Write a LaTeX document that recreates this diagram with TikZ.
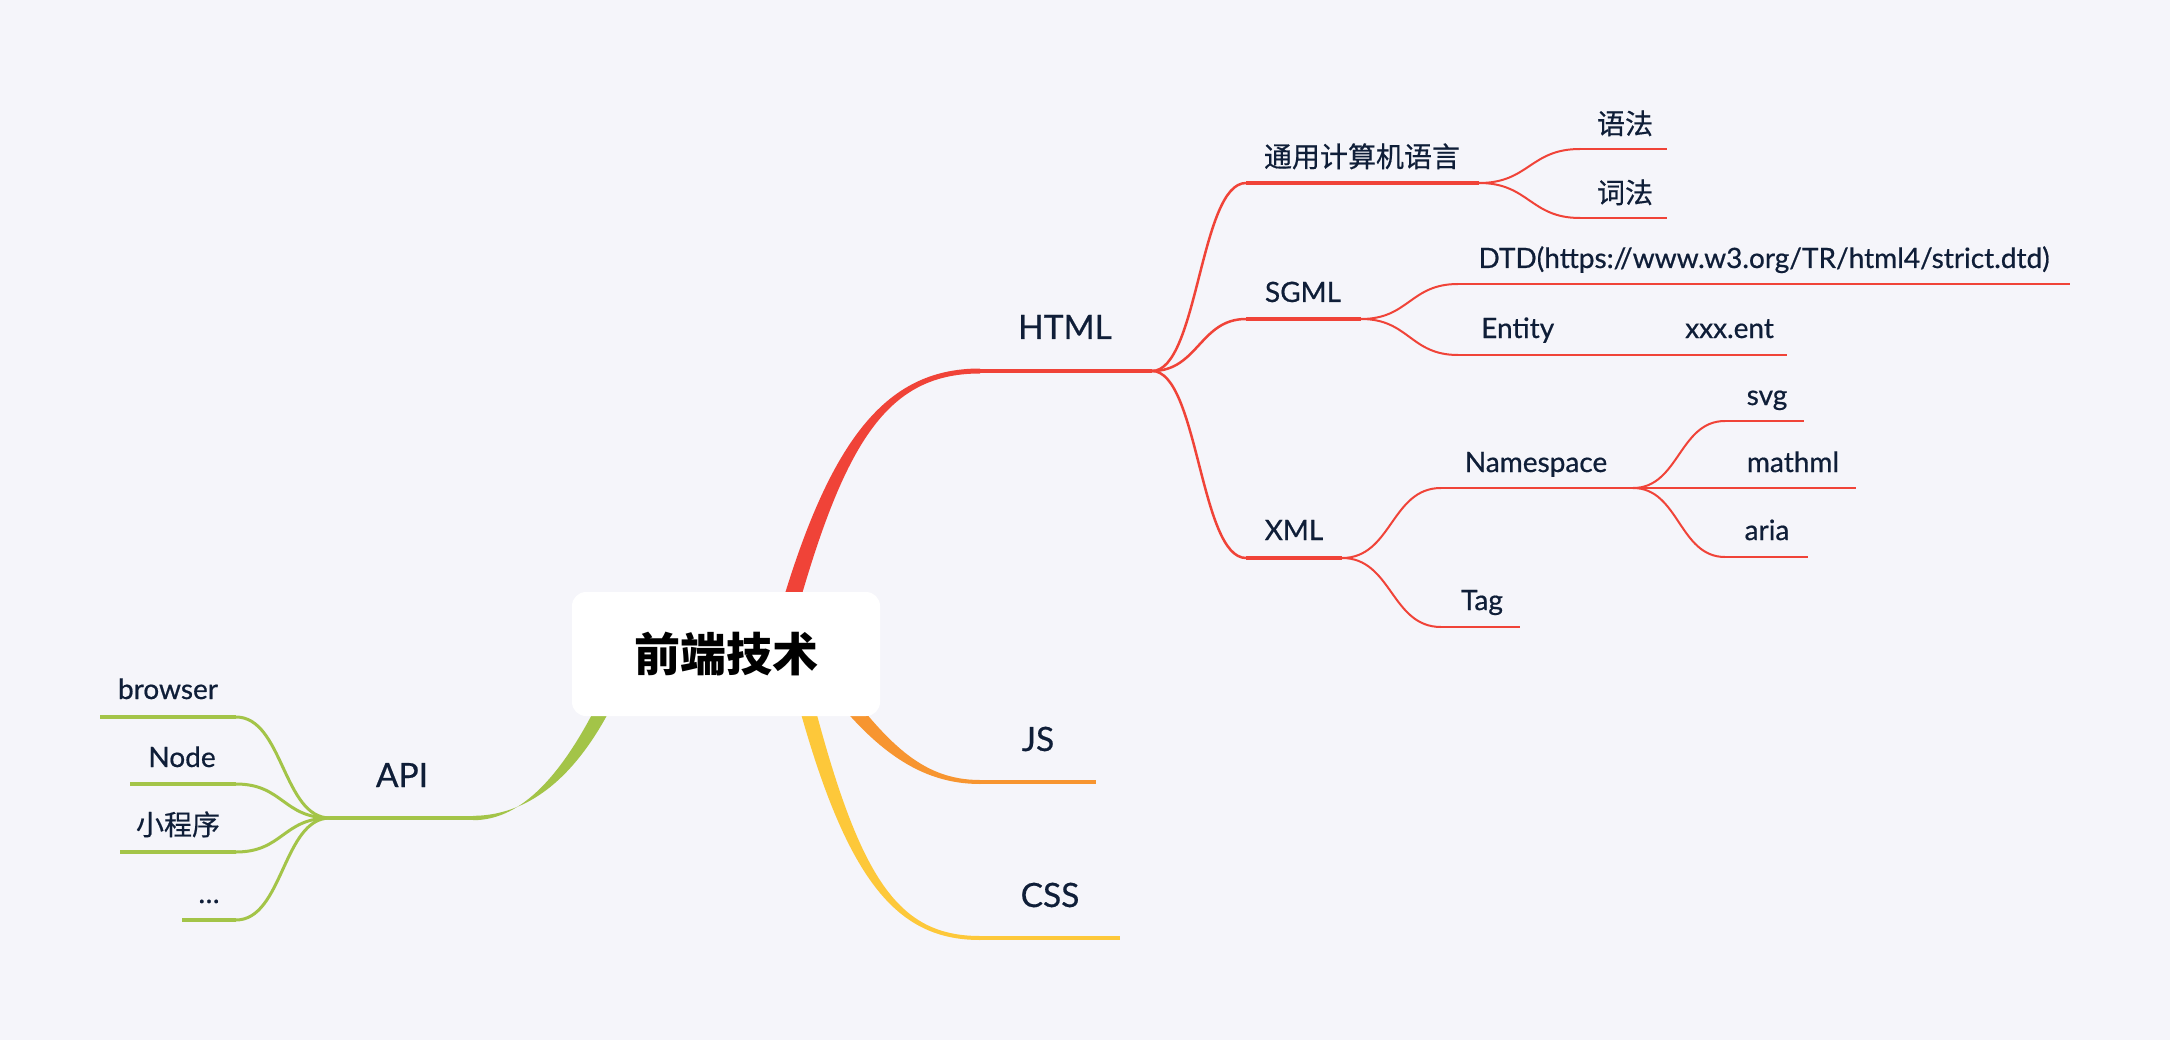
\documentclass[tikz,border=0pt]{standalone}
\usepackage{fontspec}
\setmainfont{Lato}
\newfontfamily\latomed{Lato}[FakeBold=0.6]
\newfontfamily\cjk{Noto Sans CJK SC}
\newfontfamily\cjkmed{Noto Sans CJK SC}[FakeBold=0.5]
\definecolor{bgc}{RGB}{245,245,250}
\definecolor{mmred}{RGB}{240,67,56}
\definecolor{mmorange}{RGB}{247,149,48}
\definecolor{mmyellow}{RGB}{253,200,58}
\definecolor{mmgreen}{RGB}{163,196,72}
\definecolor{txt}{RGB}{15,30,56}
\begin{document}
\begin{tikzpicture}[x=1pt,y=-1pt,
  lbl/.style={anchor=base, inner sep=0pt, text=txt, font=\latomed\fontsize{28}{30}\selectfont},
  lblone/.style={anchor=base, inner sep=0pt, text=txt, font=\latomed\fontsize{33.5}{36}\selectfont},
  cjklbl/.style={anchor=base, inner sep=0pt, text=txt, font=\cjkmed\fontsize{28}{30}\selectfont},
  uline/.style={draw=#1, line width=4pt, line cap=butt},
  thinline/.style={draw=#1, line width=2pt, line cap=butt},
  curvetwo/.style={draw=#1, line width=2.5pt},
  curvethree/.style={draw=#1, line width=2pt},
]
\fill[bgc] (0,0) rectangle (2170,1040);

% named points
\coordinate (h0) at (980,371); \coordinate (h1) at (1152,371);
\coordinate (j0) at (980,782); \coordinate (j1) at (1096,782);
\coordinate (c0) at (980,938); \coordinate (c1) at (1120,938);
\coordinate (a0) at (473,818); \coordinate (a1) at (330,818);
\coordinate (t0) at (1246,183); \coordinate (t1) at (1479,183);
\coordinate (s0) at (1246,319); \coordinate (s1) at (1361,319);
\coordinate (x0) at (1246,558); \coordinate (x1) at (1342,558);
\coordinate (yf0) at (1580,149); \coordinate (yf1) at (1667,149);
\coordinate (cf0) at (1580,218); \coordinate (cf1) at (1667,218);
\coordinate (dtd0) at (1458,284); \coordinate (dtd1) at (2070,284);
\coordinate (en0) at (1458,355); \coordinate (en1) at (1787,355);
\coordinate (ns0) at (1441,488); \coordinate (ns1) at (1633,488);
\coordinate (tg0) at (1441,627); \coordinate (tg1) at (1520,627);
\coordinate (sv0) at (1725,421); \coordinate (sv1) at (1804,421);
\coordinate (mm0) at (1725,488); \coordinate (mm1) at (1856,488);
\coordinate (ar0) at (1725,557); \coordinate (ar1) at (1808,557);
\coordinate (br0) at (236,717); \coordinate (br1) at (100,717);
\coordinate (nd0) at (236,784); \coordinate (nd1) at (130,784);
\coordinate (xc0) at (236,852); \coordinate (xc1) at (120,852);
\coordinate (dd0) at (236,920); \coordinate (dd1) at (182,920);

% tapered main branches
\fill[mmred] (766.8,657.8) .. controls (821.8,447.8) and (880,368.5) .. (980,368.5)
  -- (980,373.5) .. controls (880,373.5) and (838.2,452.2) .. (783.2,662.2) -- cycle;
\fill[mmgreen] (618.3,693) .. controls (571.3,793) and (515,815.8) .. (473,815.8)
  -- (473,820.2) .. controls (515,820.2) and (558.7,787) .. (605.7,687) -- cycle;
\fill[mmorange] (835.9,675.4) .. controls (885.9,740.4) and (920,780) .. (980,780)
  -- (980,784) .. controls (920,784) and (874.1,749.6) .. (824.1,684.6) -- cycle;
\fill[mmyellow] (797.6,638.2) .. controls (852.6,868.2) and (890,936) .. (980,936)
  -- (980,940) .. controls (890,940) and (837.4,871.8) .. (782.4,641.8) -- cycle;

% level-1 underlines
\draw[uline=mmred, line width=4.5pt] (h0) -- (h1);
\draw[uline=mmorange] (j0) -- (j1);
\draw[uline=mmyellow] (c0) -- (c1);
\draw[uline=mmgreen] (a0) -- (a1);

% HTML children
\draw[curvetwo=mmred] (h1) .. controls +(46,0) and +(-46,0) .. (t0);
\draw[curvetwo=mmred] (h1) .. controls +(46,0) and +(-46,0) .. (s0);
\draw[curvetwo=mmred] (h1) .. controls +(46,0) and +(-46,0) .. (x0);
\draw[uline=mmred] (t0) -- (t1);
\draw[uline=mmred] (s0) -- (s1);
\draw[uline=mmred] (x0) -- (x1);

\draw[curvethree=mmred] (t1) .. controls +(50,0) and +(-50,0) .. (yf0);
\draw[curvethree=mmred] (t1) .. controls +(50,0) and +(-50,0) .. (cf0);
\draw[thinline=mmred] (yf0) -- (yf1);
\draw[thinline=mmred] (cf0) -- (cf1);

\draw[curvethree=mmred] (s1) .. controls +(48,0) and +(-48,0) .. (dtd0);
\draw[curvethree=mmred] (s1) .. controls +(48,0) and +(-48,0) .. (en0);
\draw[thinline=mmred] (dtd0) -- (dtd1);
\draw[thinline=mmred] (en0) -- (en1);

\draw[curvethree=mmred] (x1) .. controls +(50,0) and +(-50,0) .. (ns0);
\draw[curvethree=mmred] (x1) .. controls +(50,0) and +(-50,0) .. (tg0);
\draw[thinline=mmred, line width=2.5pt] (ns0) -- (ns1);
\draw[thinline=mmred] (tg0) -- (tg1);

\draw[curvethree=mmred] (ns1) .. controls +(46,0) and +(-46,0) .. (sv0);
\draw[curvethree=mmred] (ns1) -- (mm0);
\draw[curvethree=mmred] (ns1) .. controls +(46,0) and +(-46,0) .. (ar0);
\draw[thinline=mmred] (sv0) -- (sv1);
\draw[thinline=mmred] (mm0) -- (mm1);
\draw[thinline=mmred] (ar0) -- (ar1);

% API children
\draw[curvetwo=mmgreen, line width=3pt] (a1) .. controls +(-47,0) and +(47,0) .. (br0);
\draw[curvetwo=mmgreen, line width=3pt] (a1) .. controls +(-47,0) and +(47,0) .. (nd0);
\draw[curvetwo=mmgreen, line width=3pt] (a1) .. controls +(-47,0) and +(47,0) .. (xc0);
\draw[curvetwo=mmgreen, line width=3pt] (a1) .. controls +(-47,0) and +(47,0) .. (dd0);
\draw[uline=mmgreen] (br0) -- (br1);
\draw[uline=mmgreen] (nd0) -- (nd1);
\draw[uline=mmgreen] (xc0) -- (xc1);
\draw[uline=mmgreen] (dd0) -- (dd1);

% root
\node[fill=white, rounded corners=14pt, minimum width=308pt, minimum height=124pt, inner sep=0pt] (rootbox) at (726,654) {};
\node[anchor=base, inner sep=0pt, text=black, font=\cjk\bfseries\fontsize{46}{50}\selectfont] (root) at (726,671) {前端技术};

% labels
\node[lblone] (html) at (1065,339) {HTML};
\node[lblone] (js) at (1038,751) {JS};
\node[lblone] (css) at (1050,907) {CSS};
\node[lblone] (api) at (402,787) {API};

\node[cjklbl] (tongyong) at (1362,167) {通用计算机语言};
\node[lbl] (sgml) at (1303,302) {SGML};
\node[lbl] (xml) at (1294,540) {XML};
\node[cjklbl] (yufa) at (1625,134) {语法};
\node[cjklbl] (cifa) at (1625,203) {词法};
\node[lbl] (dtd) at (1764,268) {DTD(https://www.w3.org/TR/html4/strict.dtd)};
\node[lbl, anchor=base west] (entity) at (1481,338) {Entity};
\node[lbl, anchor=base west] (xxx) at (1685,338) {xxx.ent};
\node[lbl] (ns) at (1536,472) {Namespace};
\node[lbl] (tag) at (1482,610) {Tag};
\node[lbl] (svg) at (1767,405) {svg};
\node[lbl] (mathml) at (1793,472) {mathml};
\node[lbl] (aria) at (1767,540) {aria};

\node[lbl] (browser) at (168,699) {browser};
\node[lbl] (node) at (182,767) {Node};
\node[cjklbl] (xcx) at (178,835) {小程序};
\node[lbl] (dots) at (209,903) {…};
\end{tikzpicture}
\end{document}
